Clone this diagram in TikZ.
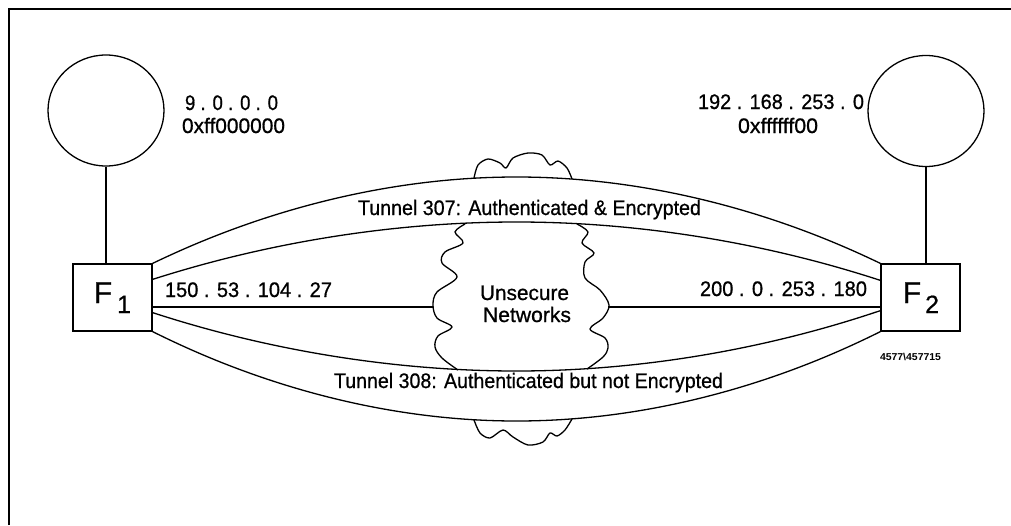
\documentclass[tikz,border=0pt]{standalone}
\usepackage{fontspec}
\setmainfont{Liberation Sans}
\newfontfamily\lblfont{Liberation Sans}[FakeBold=0.8]
\newfontfamily\idfont{Liberation Sans Bold}
\usepackage{graphicx}
\usetikzlibrary{shapes.geometric,calc}
\newcommand\fitw[2]{\resizebox{#1}{\height}{#2}}
\begin{document}
\begin{tikzpicture}[x=1pt,y=-1pt,
  ln/.style={line width=1.3pt},
  midln/.style={line width=1.8pt},
  netw/.style={draw, ellipse, line width=1.3pt, minimum width=116pt, minimum height=111pt, inner sep=0pt},
  fwbox/.style={draw, line width=1.3pt, minimum width=79pt, minimum height=67pt, inner sep=0pt},
  lbl/.style={font=\lblfont\fontsize{21}{25}\selectfont, inner sep=0pt, anchor=base},
  fwtxt/.style={font=\lblfont, inner sep=0pt, anchor=base west},
]
\useasboundingbox (0,0) rectangle (1011,525);
\draw[line width=2pt] (8.5,525) -- (8.5,9) -- (1011,9);

% networks and firewalls
\node[netw] (n1) at (106,110.5) {};
\node[netw] (n2) at (926,111) {};
\node[fwbox] (f1) at (112.5,297.5) {};
\node[fwbox] (f2) at (920.5,297.5) {};
\node[fwtxt] (f1t) at (93.6,303) {\fontsize{30}{30}\selectfont F\hspace{5pt}\raisebox{-10pt}{\fontsize{25}{25}\selectfont 1}};
\node[fwtxt] (f2t) at (902.6,303) {\fontsize{30}{30}\selectfont F\hspace{4pt}\raisebox{-10pt}{\fontsize{25}{25}\selectfont 2}};

\draw[ln] (n1.south) -- (n1.south |- f1.north);
\draw[ln] (n2.south) -- (n2.south |- f2.north);

% tunnel end points
\coordinate (f1it) at ($(f1.north east)+(0,16)$);
\coordinate (f2it) at ($(f2.north west)+(0,17)$);
\coordinate (f1ib) at ($(f1.south east)+(0,-19)$);
\coordinate (f2ib) at ($(f2.south west)+(0,-21)$);
\coordinate (f1m) at ($(f1.east)+(0,9.5)$);
\coordinate (f2m) at ($(f2.west)+(0,9.5)$);
\coordinate (b1) at (516.5,177);
\coordinate (b2) at (516.5,222);
\coordinate (b3) at (516.5,371);
\coordinate (b4) at (516.5,421);
\coordinate (cwl) at (433,307);
\coordinate (cwr) at (609,307);

% tunnels
\draw[ln] (f1.north east) parabola bend (b1) (f2.north west);
\draw[ln] (f1it) parabola bend (b2) (f2it);
\draw[ln] (f1ib) parabola bend (b3) (f2ib);
\draw[ln] (f1.south east) parabola bend (b4) (f2.south west);

% direct link through the networks
\draw[midln] (f1m) -- (cwl);
\draw[midln] (cwr) -- (f2m);

% cloud
\draw[ln] plot[smooth, tension=0.5] coordinates {(474,178) (478,165) (488,159) (500,163) (506,168) (513,158) (528,153) (542,155) (550,165) (558,161) (567,168) (572,179)};
\draw[ln] plot[smooth, tension=0.5] coordinates {(474,420) (480,433) (490,438) (503,430) (513,437) (528,445) (543,442) (550,433) (557,436) (565,430) (572,419)};
\draw[ln] plot[smooth, tension=0.55] coordinates {(465,224) (455,232) (463,243) (445,252) (442,263) (457,277) (437,292) (433,305) (437,318) (452,327) (438,336) (435,347) (442,358) (458,370)};
\draw[ln] plot[smooth, tension=0.55] coordinates {(577,224) (588,232) (582,243) (594,253) (585,262) (585,278) (600,290) (609,305) (603,318) (590,329) (605,338) (608,348) (603,357) (587,369)};

% labels
\node[lbl] (a1) at (231.5,110) {\fitw{93pt}{9 . 0 . 0 . 0}};
\node[lbl] (m1) at (233.5,133) {\fitw{103pt}{0xff000000}};
\node[lbl] (a2) at (781,109) {\fitw{166pt}{192 . 168 . 253 . 0}};
\node[lbl] (m2) at (778,133) {\fitw{80pt}{0xffffff00}};
\node[lbl] (ip1) at (248.5,297) {\fitw{167pt}{150 . 53 . 104 . 27}};
\node[lbl] (ip2) at (783.5,296) {\fitw{167pt}{200 . 0 . 253 . 180}};
\node[lbl] (t307) at (529.5,215) {\fitw{343pt}{Tunnel 307: Authenticated \& Encrypted}};
\node[lbl] (t308) at (528.5,388) {\fitw{389pt}{Tunnel 308: Authenticated but not Encrypted}};
\node[lbl] (u1) at (524.5,300) {\fitw{89pt}{Unsecure}};
\node[lbl] (u2) at (527,322) {\fitw{88pt}{Networks}};
\node[inner sep=0pt, anchor=base] (fig) at (910.5,360) {\fitw{61pt}{\idfont\fontsize{10}{10}\selectfont 4577\textbackslash 457715}};
\end{tikzpicture}
\end{document}
